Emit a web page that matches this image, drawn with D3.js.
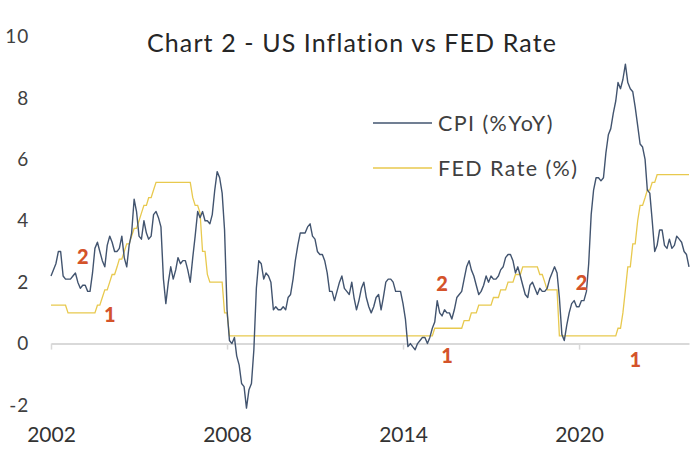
<!DOCTYPE html>
<html><head><meta charset="utf-8">
<script src="https://cdn.jsdelivr.net/npm/d3@7"></script>
<style>
html,body{margin:0;padding:0;background:#fff;}
svg{display:block;font-family:Lato,"Noto Sans",sans-serif;}
</style></head>
<body>
<svg id="chart" width="700" height="450"></svg>
<script>
// Monthly data, first point = Nov 2002, last point = Aug 2024
const startYear = 2002, startMonth = 10;
const cpi = [
  2.2, 2.4,
  2.6, 3.0, 3.0, 2.2, 2.1, 2.1, 2.1, 2.2, 2.3, 2.0, 1.8, 1.9,
  1.9, 1.7, 1.7, 2.3, 3.1, 3.3, 3.0, 2.7, 2.5, 3.2, 3.5, 3.3,
  3.0, 3.0, 3.1, 3.5, 2.8, 2.5, 3.2, 3.6, 4.7, 4.3, 3.5, 3.4,
  4.0, 3.6, 3.4, 3.5, 4.2, 4.3, 4.1, 3.8, 2.1, 1.3, 2.0, 2.5,
  2.1, 2.4, 2.8, 2.6, 2.7, 2.7, 2.4, 2.0, 2.8, 3.5, 4.3, 4.1,
  4.3, 4.0, 4.0, 3.9, 4.2, 5.0, 5.6, 5.4, 4.9, 3.7, 1.1, 0.1,
  0.0, 0.2, -0.4, -0.7, -1.3, -1.4, -2.1, -1.5, -1.3, -0.2, 1.8, 2.7,
  2.6, 2.1, 2.3, 2.2, 2.0, 1.1, 1.2, 1.1, 1.1, 1.2, 1.1, 1.5,
  1.6, 2.1, 2.7, 3.2, 3.6, 3.6, 3.6, 3.8, 3.9, 3.5, 3.4, 3.0,
  2.9, 2.9, 2.7, 2.3, 1.7, 1.7, 1.4, 1.7, 2.0, 2.2, 1.8, 1.7,
  1.6, 2.0, 1.5, 1.1, 1.4, 1.8, 2.0, 1.5, 1.2, 1.0, 1.2, 1.5,
  1.6, 1.1, 1.5, 2.0, 2.1, 2.1, 2.0, 1.7, 1.7, 1.7, 1.3, 0.8,
  -0.1, 0.0, -0.1, -0.2, 0.0, 0.1, 0.2, 0.2, 0.0, 0.2, 0.5, 0.7,
  1.4, 1.0, 0.9, 1.1, 1.0, 1.0, 0.8, 1.1, 1.5, 1.6, 1.7, 2.1,
  2.5, 2.7, 2.4, 2.2, 1.9, 1.6, 1.7, 1.9, 2.2, 2.0, 2.2, 2.1,
  2.1, 2.2, 2.4, 2.5, 2.8, 2.9, 2.9, 2.7, 2.3, 2.5, 2.2, 1.9,
  1.6, 1.5, 1.9, 2.0, 1.8, 1.6, 1.8, 1.7, 1.7, 1.8, 2.1, 2.3,
  2.5, 2.3, 1.5, 0.3, 0.1, 0.6, 1.0, 1.3, 1.4, 1.2, 1.2, 1.4,
  1.4, 1.7, 2.6, 4.2, 5.0, 5.4, 5.4, 5.3, 5.4, 6.2, 6.8, 7.0,
  7.5, 7.9, 8.5, 8.3, 8.6, 9.1, 8.5, 8.3, 8.2, 7.7, 7.1, 6.5,
  6.4, 6.0, 5.0, 4.9, 4.0, 3.0, 3.2, 3.7, 3.7, 3.2, 3.1, 3.4,
  3.1, 3.2, 3.5, 3.4, 3.3, 3.0, 2.9, 2.5
];
const fed = [
  1.25, 1.25,
  1.25, 1.25, 1.25, 1.25, 1.25, 1.00, 1.00, 1.00, 1.00, 1.00, 1.00, 1.00,
  1.00, 1.00, 1.00, 1.00, 1.00, 1.25, 1.25, 1.50, 1.75, 1.75, 2.00, 2.25,
  2.25, 2.50, 2.75, 2.75, 3.00, 3.25, 3.25, 3.50, 3.75, 3.75, 4.00, 4.25,
  4.50, 4.50, 4.75, 4.75, 5.00, 5.25, 5.25, 5.25, 5.25, 5.25, 5.25, 5.25,
  5.25, 5.25, 5.25, 5.25, 5.25, 5.25, 5.25, 5.25, 4.75, 4.50, 4.50, 4.25,
  3.00, 3.00, 2.25, 2.00, 2.00, 2.00, 2.00, 2.00, 2.00, 1.00, 1.00, 0.25,
  0.25, 0.25, 0.25, 0.25, 0.25, 0.25, 0.25, 0.25, 0.25, 0.25, 0.25, 0.25,
  0.25, 0.25, 0.25, 0.25, 0.25, 0.25, 0.25, 0.25, 0.25, 0.25, 0.25, 0.25,
  0.25, 0.25, 0.25, 0.25, 0.25, 0.25, 0.25, 0.25, 0.25, 0.25, 0.25, 0.25,
  0.25, 0.25, 0.25, 0.25, 0.25, 0.25, 0.25, 0.25, 0.25, 0.25, 0.25, 0.25,
  0.25, 0.25, 0.25, 0.25, 0.25, 0.25, 0.25, 0.25, 0.25, 0.25, 0.25, 0.25,
  0.25, 0.25, 0.25, 0.25, 0.25, 0.25, 0.25, 0.25, 0.25, 0.25, 0.25, 0.25,
  0.25, 0.25, 0.25, 0.25, 0.25, 0.25, 0.25, 0.25, 0.25, 0.25, 0.25, 0.50,
  0.50, 0.50, 0.50, 0.50, 0.50, 0.50, 0.50, 0.50, 0.50, 0.50, 0.50, 0.75,
  0.75, 0.75, 1.00, 1.00, 1.00, 1.25, 1.25, 1.25, 1.25, 1.25, 1.25, 1.50,
  1.50, 1.50, 1.75, 1.75, 1.75, 2.00, 2.00, 2.00, 2.25, 2.25, 2.25, 2.50,
  2.50, 2.50, 2.50, 2.50, 2.50, 2.50, 2.25, 2.25, 2.00, 1.75, 1.75, 1.75,
  1.75, 1.75, 0.25, 0.25, 0.25, 0.25, 0.25, 0.25, 0.25, 0.25, 0.25, 0.25,
  0.25, 0.25, 0.25, 0.25, 0.25, 0.25, 0.25, 0.25, 0.25, 0.25, 0.25, 0.25,
  0.25, 0.25, 0.50, 0.50, 1.00, 1.75, 2.50, 2.50, 3.25, 3.25, 4.00, 4.50,
  4.50, 4.75, 5.00, 5.00, 5.25, 5.25, 5.50, 5.50, 5.50, 5.50, 5.50, 5.50,
  5.50, 5.50, 5.50, 5.50, 5.50, 5.50, 5.50, 5.50
];
const xTickLabels = ["2002", "2008", "2014", "2020"];
const yTicks = [-2, 0, 2, 4, 6, 8, 10];
const seriesNames = ["CPI (%YoY)", "FED Rate (%)"];
// annotations: [year, month(0-based), value, label]
const notes = [
  [2003, 11, 2.82, "2"], [2004, 10, 0.93, "1"],
  [2016, 2, 1.94, "2"], [2016, 4, -0.41, "1"],
  [2020, 11.8, 1.97, "2"], [2022, 9, -0.54, "1"]
];

const svg = d3.select("#chart");
const dates = cpi.map((_, i) => new Date(startYear, startMonth + i, 1));
const x = d3.scaleTime().domain([dates[0], dates[dates.length - 1]]).range([51, 689]);
const y = d3.scaleLinear().domain([-2, 10]).range([405, 36.5]);

// title
svg.append("text").attr("x", 352).attr("y", 52).attr("text-anchor", "middle")
  .attr("font-size", 25).attr("letter-spacing", 1.1).attr("fill", "#262626")
  .text("Chart 2 - US Inflation vs FED Rate");

// y axis labels
const yAxis = d3.axisLeft(y).tickValues(yTicks).tickSize(0).tickPadding(0).tickFormat(d => String(d));
const gy = svg.append("g").attr("transform", "translate(29,0)").call(yAxis);
gy.select(".domain").remove();
gy.selectAll("text").attr("font-size", 19).attr("letter-spacing", 0.8)
  .attr("font-family", "Lato,'Noto Sans',sans-serif").attr("fill", "#404040");

// x axis at zero
const tickDates = xTickLabels.map(l => new Date(+l, startMonth, 1));
const xAxis = d3.axisBottom(x).tickValues(tickDates).tickSize(6).tickSizeOuter(0)
  .tickFormat(d => xTickLabels[tickDates.findIndex(t => +t === +d)]);
const gx = svg.append("g").attr("transform", `translate(0,${y(0)})`).call(xAxis);
gx.select(".domain").attr("stroke", "#D9D9D9").attr("stroke-width", 2);
gx.selectAll(".tick line").attr("stroke", "#D9D9D9").attr("stroke-width", 1.5);
gx.selectAll("text").attr("y", 442 - y(0)).attr("dy", 0).attr("font-size", 21)
  .attr("font-family", "Lato,'Noto Sans',sans-serif").attr("fill", "#333");

// lines
const line = d3.line().x((d, i) => x(dates[i])).y(d => y(d));
svg.append("path").datum(fed).attr("d", line).attr("fill", "none")
  .attr("stroke", "#E8C94E").attr("stroke-width", 1.3);
svg.append("path").datum(cpi).attr("d", line).attr("fill", "none")
  .attr("stroke", "#42546F").attr("stroke-width", 1.4).attr("stroke-linejoin", "round");

// legend
const legColors = ["#42546F", "#E8C94E"];
seriesNames.forEach((n, i) => {
  const ly = 123 + i * 45;
  svg.append("line").attr("x1", 373).attr("x2", 432).attr("y1", ly).attr("y2", ly)
    .attr("stroke", legColors[i]).attr("stroke-width", 1.4);
  svg.append("text").attr("x", 438).attr("y", ly).attr("dy", "0.35em")
    .attr("font-size", 21.5).attr("letter-spacing", 1.4).attr("fill", "#404040").text(n);
});

// annotations
notes.forEach(([yr, m, v, t]) => {
  svg.append("text").attr("x", x(new Date(yr, m, 1))).attr("y", y(v)).attr("dy", "0.35em")
    .attr("text-anchor", "middle").attr("font-size", 20).attr("font-weight", "900")
    .attr("fill", "#D4532A").text(t);
});
</script>
</body></html>
